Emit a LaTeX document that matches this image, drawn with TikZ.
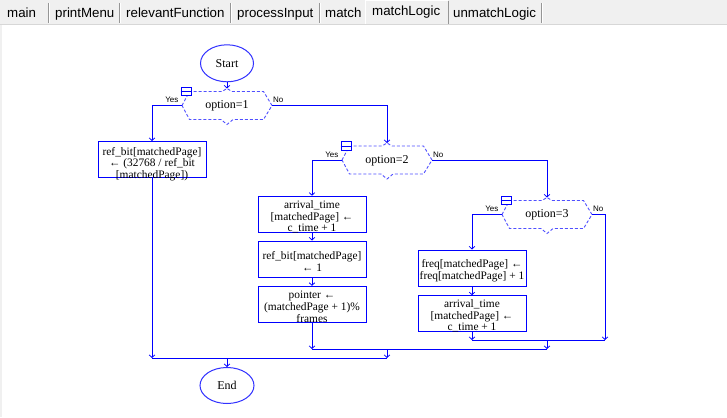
\documentclass[tikz,border=0pt]{standalone}
\usepackage{fontspec}
\setmainfont{Liberation Serif}
\newfontfamily\uisans{Liberation Sans}
\usetikzlibrary{arrows.meta,shapes.geometric}
\definecolor{fb}{RGB}{0,0,255}
\definecolor{fbd}{RGB}{80,80,255}
\definecolor{fbe}{RGB}{50,50,255}
\definecolor{tabbg}{RGB}{240,240,240}
\definecolor{tabsep}{RGB}{150,150,150}
\definecolor{tabline}{RGB}{215,215,215}
\newcommand\boxfont{\fontsize{11.4}{11.7}\selectfont}
\newcommand\termfont{\fontsize{12}{12}\selectfont}
\tikzset{
  ln/.style={draw=fb,line width=1pt},
  arr/.style={-{Straight Barb[length=2.5pt,width=5.5pt,line width=0.8pt]}},
  dec/.style={draw=fbd,line width=0.9pt,dash pattern=on 3pt off 2pt},
  dtext/.style={font=\termfont,inner sep=0pt},
  pb/.style={draw=fb,line width=1pt,rectangle,minimum width=108pt,minimum height=36pt,inner sep=0pt},
  ptext/.style={font=\boxfont,align=center,inner sep=0pt},
  term/.style={draw=fbe,line width=1pt,ellipse,inner sep=0pt,font=\termfont},
  collapse/.style={draw=fb,fill=white,line width=0.9pt,rectangle,minimum width=10pt,minimum height=8.5pt,inner sep=0pt},
  lab/.style={font=\uisans\fontsize{8}{9}\selectfont,inner sep=0pt},
  tabtext/.style={font=\uisans\fontsize{13.3}{14}\selectfont,inner sep=0pt,anchor=base west},
}
\newcommand\decision[4]{%
  \begin{scope}[shift={(#2,#3)}]
    \draw[dec] (-45,0) -- (-37.5,-14) -- (-5,-14) -- (0,-17) -- (5,-14) -- (36.5,-14) -- (45,0) -- (36.5,14) -- (6,14) -- (0,19) -- (-6,14) -- (-37.5,14) -- cycle;
    \node[dtext] (#1) at (0,0.5) {#4};
    \coordinate (#1-l) at (-45,0);
    \coordinate (#1-r) at (45,0);
    \coordinate (#1-p) at (0,-17);
    \node[collapse] (#1-c) at (-41,-14) {};
    \draw[fb,line width=0.8pt] (#1-c.west) -- (#1-c.east);
    \node[lab,anchor=base east] (#1-yes) at (-48.5,-3) {Yes};
    \node[lab,anchor=base west] (#1-no) at (46,-3) {No};
  \end{scope}}
\newcommand\pbox[5]{% name, cx, cy, text y, text
  \node[pb] (#1) at (#2,#3) {};
  \node[ptext] (#1-t) at (#2,#4) {#5};}
\begin{document}
\begin{tikzpicture}[x=1pt,y=-1pt]
\useasboundingbox (0,0) rectangle (727,417);
% tab bar
\fill[tabbg] (0,0) rectangle (727,24);
\fill[white] (0,25) rectangle (727,417);
\fill[tabbg] (0,25) rectangle (2,417);
\draw[tabline,line width=1pt] (0,24.5) -- (727,24.5);
\foreach \sx in {48,119,230,319,541}{
  \draw[tabsep,line width=1pt] (\sx,3) -- (\sx,23);
  \draw[white,line width=1pt] (\sx+1,3) -- (\sx+1,23);
}
\draw[white,line width=1pt] (365,24) -- (365,1) -- (448,1);
\draw[tabsep,line width=1pt] (448,1) -- (448,24);
\node[tabtext] (tmain) at (7,18) {main};
\node[tabtext] (tprint) at (55,18) {printMenu};
\node[tabtext] (trel) at (126,18) {relevantFunction};
\node[tabtext] (tproc) at (237,18) {processInput};
\node[tabtext] (tmatch) at (325,18) {match};
\node[tabtext] (tml) at (372,15.5) {matchLogic};
\node[tabtext] (tuml) at (453,18) {unmatchLogic};
% terminals
\node[term,minimum width=53pt,minimum height=37pt] (start) at (227,63.3) {Start};
\node[term,minimum width=54pt,minimum height=36pt] (end) at (227,385.5) {End};
% decisions
\decision{d1}{227}{105.5}{option=1}
\decision{d2}{387}{160}{option=2}
\decision{d3}{547}{214.5}{option=3}
% process boxes
\pbox{b1}{152}{159.5}{164}{ref\_bit[matchedPage]\\← (32768 / ref\_bit\\{}[matchedPage])}
\pbox{b2}{312}{214.2}{217}{arrival\_time\\{}[matchedPage] ←\\c\_time + 1}
\pbox{b3}{312}{259}{261.8}{ref\_bit[matchedPage]\\← 1}
\pbox{b4}{312}{304.3}{306.8}{pointer ←\\(matchedPage + 1)\%\\frames}
\pbox{b5}{472}{268}{270.8}{freq[matchedPage] ←\\freq[matchedPage] + 1}
\pbox{b6}{472}{313.7}{315.8}{arrival\_time\\{}[matchedPage] ←\\c\_time + 1}
% merge points
\coordinate (m3l) at (472,340);
\coordinate (m3r) at (605,340);
\coordinate (m3c) at (547,340);
\coordinate (m2l) at (312,349);
\coordinate (m2r) at (547,349);
\coordinate (m2c) at (387,349);
\coordinate (m1l) at (152,358);
\coordinate (m1r) at (387,358);
\coordinate (m1c) at (227,358);
% connectors
\draw[ln,arr] (start) -- (d1-p);
\draw[ln,arr] (d1-l) -| (b1);
\draw[ln,arr] (d1-r) -| (d2-p);
\draw[ln,arr] (d2-l) -| (b2);
\draw[ln,arr] (b2) -- (b3);
\draw[ln,arr] (b3) -- (b4);
\draw[ln,arr] (d2-r) -| (d3-p);
\draw[ln,arr] (d3-l) -| (b5);
\draw[ln,arr] (b5) -- (b6);
\draw[ln,arr] (b6) -- (m3l);
\draw[ln,arr] (d3-r) -| (m3r);
\draw[ln] (m3l) -- (m3r);
\draw[ln,arr] (m3c) -- (m2r);
\draw[ln,arr] (b4) -- (m2l);
\draw[ln] (m2l) -- (m2r);
\draw[ln,arr] (m2c) -- (m1r);
\draw[ln,arr] (b1) -- (m1l);
\draw[ln] (m1l) -- (m1r);
\draw[ln,arr] (m1c) -- (end);
\end{tikzpicture}
\end{document}
